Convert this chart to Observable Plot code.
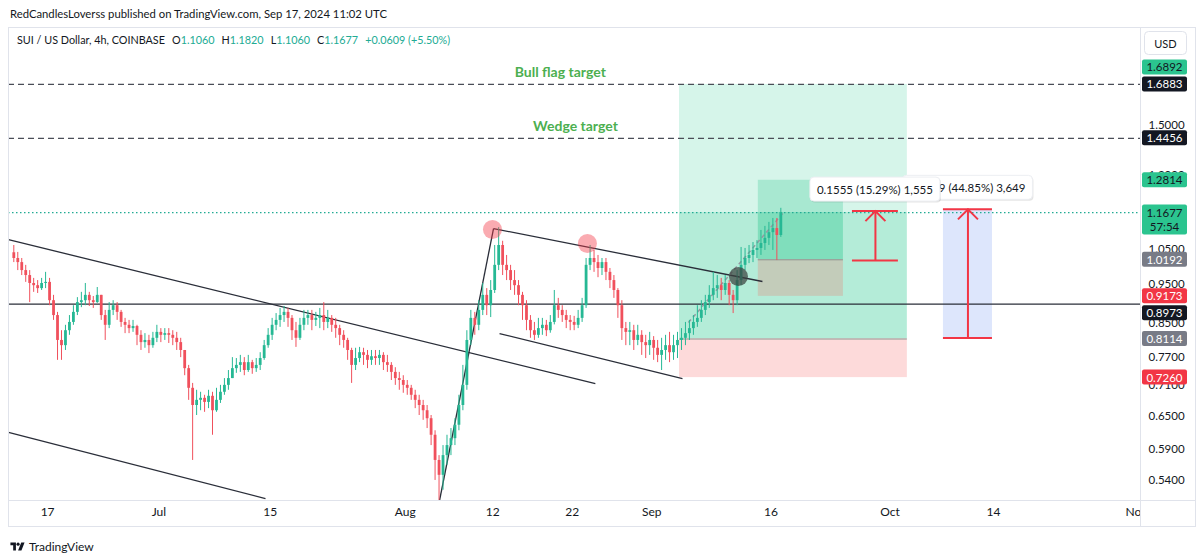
<!DOCTYPE html>
<html><head><meta charset="utf-8">
<script src="https://cdn.jsdelivr.net/npm/d3@7"></script>
<script src="https://cdn.jsdelivr.net/npm/@observablehq/plot@0.6"></script>
<style>
html,body{margin:0;padding:0;background:#fff;}
body{width:1200px;height:559px;overflow:hidden;font-family:Lato,"Noto Sans",sans-serif;color:#131722;}
#hdr{height:27px;line-height:28px;padding-left:10px;font-size:11.3px;white-space:nowrap;}
#wrap{position:relative;height:500px;}
#wrap svg{display:block;}
#legend{position:absolute;left:17px;top:5px;font-size:10.8px;line-height:16px;white-space:nowrap;}
#legend .g{color:#22ab94;}
#legend .k{margin-left:7px;}
#ftr{height:32px;position:relative;}
#ftr .logo{position:absolute;left:10px;top:12px;display:flex;align-items:center;font-size:12px;}
#ftr svg{margin-right:4px;}
</style></head><body>
<div id="hdr">RedCandlesLoverss published on TradingView.com, Sep 17, 2024 11:02 UTC</div>
<div id="wrap"><div id="legend"></div></div>
<div id="ftr"><div class="logo"><svg width="15" height="11" viewBox="0 0 36 28"><path d="M14 24H7V11H0V4h14v20zM28 24h-8.5l8-20h8.5L28 24z" fill="#131722"/><circle cx="19.5" cy="8" r="4" fill="#131722"/></svg><span>TradingView</span></div></div>
<script>
// ---------------- DATA ----------------
const symbolTitle = "SUI / US Dollar, 4h, COINBASE";
const legendKeys = ["O", "H", "L", "C"];
const legendValues = ["1.1060", "1.1820", "1.1060", "1.1677"];
const legendChange = "+0.0609 (+5.50%)";

// 12h candles, first one starting 2024-06-12 12:00 UTC
const firstCandleCenter = "2024-06-12T18:00:00Z";
const candleHours = 12;
const firstOpen = 1.040;
const closes = [
 1.023,1.011,0.988,0.974,0.952,0.946,0.938,0.952,0.955,0.906,
 0.868,0.808,0.796,0.831,0.851,0.876,0.901,0.906,0.920,0.906,
 0.901,0.920,0.868,0.844,0.881,0.893,0.876,0.851,0.844,0.836,
 0.841,0.820,0.803,0.808,0.796,0.813,0.827,0.820,0.824,0.820,
 0.813,0.803,0.785,0.745,0.704,0.670,0.680,0.684,0.676,0.688,
 0.660,0.680,0.696,0.710,0.724,0.745,0.752,0.758,0.741,0.758,
 0.745,0.752,0.767,0.796,0.820,0.844,0.856,0.868,0.876,0.861,
 0.831,0.813,0.844,0.861,0.868,0.856,0.861,0.868,0.851,0.861,
 0.844,0.836,0.820,0.808,0.785,0.752,0.767,0.780,0.774,0.763,
 0.771,0.767,0.774,0.758,0.752,0.737,0.724,0.720,0.710,0.704,
 0.690,0.680,0.670,0.660,0.645,0.615,0.572,0.548,0.580,0.597,
 0.609,0.633,0.670,0.710,0.808,0.861,0.844,0.881,0.920,0.893,
 0.933,1.003,1.062,1.003,0.988,0.960,0.946,0.920,0.893,0.856,
 0.831,0.820,0.836,0.844,0.831,0.851,0.893,0.881,0.868,0.856,
 0.851,0.844,0.861,0.893,1.003,1.023,1.011,0.994,1.011,0.983,
 0.960,0.933,0.893,0.836,0.827,0.831,0.808,0.820,0.803,0.796,
 0.808,0.790,0.774,0.785,0.796,0.780,0.796,0.808,0.813,0.824,
 0.836,0.851,0.861,0.881,0.901,0.920,0.938,0.946,0.933,0.952,
 0.920,0.906,0.960,1.003,1.023,1.032,1.047,1.053,1.068,1.084,
 1.102,1.115,1.093,1.168];
const highs = [
 1.062,1.041,1.023,1.003,0.988,0.966,0.960,0.966,0.983,0.966,
 0.920,0.876,0.831,0.844,0.868,0.893,0.914,0.928,0.952,0.928,
 0.917,0.941,0.920,0.881,0.901,0.906,0.901,0.881,0.861,0.856,
 0.856,0.844,0.831,0.824,0.820,0.827,0.844,0.836,0.836,0.836,
 0.831,0.827,0.813,0.785,0.752,0.714,0.700,0.696,0.690,0.700,
 0.696,0.704,0.710,0.724,0.741,0.769,0.767,0.774,0.769,0.774,
 0.763,0.767,0.780,0.808,0.836,0.861,0.873,0.886,0.891,0.886,
 0.868,0.851,0.861,0.881,0.881,0.881,0.876,0.886,0.901,0.881,
 0.868,0.861,0.844,0.831,0.813,0.790,0.790,0.792,0.790,0.785,
 0.785,0.785,0.785,0.780,0.774,0.758,0.747,0.737,0.730,0.720,
 0.710,0.700,0.690,0.680,0.670,0.651,0.623,0.580,0.597,0.615,
 0.627,0.645,0.690,0.752,0.831,0.881,0.876,0.906,0.952,0.938,
 0.960,1.062,1.118,1.075,1.032,1.003,0.988,0.960,0.928,0.906,
 0.868,0.851,0.861,0.861,0.856,0.868,0.933,0.912,0.893,0.881,
 0.868,0.866,0.881,0.912,1.023,1.062,1.047,1.032,1.023,1.023,
 0.994,0.974,0.938,0.906,0.851,0.851,0.844,0.844,0.831,0.820,
 0.827,0.817,0.808,0.813,0.820,0.827,0.820,0.827,0.836,0.851,
 0.856,0.868,0.893,0.906,0.920,0.946,0.983,0.974,0.966,0.974,
 0.960,0.933,0.988,1.056,1.053,1.062,1.071,1.077,1.109,1.122,
 1.135,1.148,1.148,1.182];
const lows = [
 1.011,0.988,0.974,0.955,0.901,0.928,0.925,0.933,0.938,0.893,
 0.856,0.763,0.763,0.785,0.820,0.844,0.868,0.888,0.893,0.891,
 0.886,0.899,0.856,0.808,0.836,0.868,0.856,0.839,0.824,0.824,
 0.827,0.796,0.785,0.790,0.778,0.790,0.803,0.803,0.808,0.801,
 0.796,0.785,0.769,0.730,0.680,0.572,0.651,0.660,0.657,0.664,
 0.615,0.657,0.674,0.690,0.700,0.724,0.735,0.737,0.730,0.737,
 0.733,0.737,0.741,0.763,0.790,0.808,0.831,0.839,0.851,0.839,
 0.808,0.792,0.808,0.831,0.844,0.831,0.841,0.836,0.831,0.836,
 0.827,0.813,0.796,0.790,0.763,0.714,0.741,0.758,0.752,0.745,
 0.752,0.752,0.752,0.741,0.737,0.720,0.710,0.700,0.694,0.690,
 0.680,0.664,0.651,0.642,0.627,0.597,0.540,0.470,0.525,0.564,
 0.580,0.597,0.623,0.660,0.700,0.796,0.820,0.831,0.868,0.868,
 0.863,0.925,0.988,0.974,0.960,0.933,0.920,0.893,0.856,0.831,
 0.813,0.808,0.813,0.820,0.817,0.825,0.845,0.861,0.851,0.836,
 0.831,0.831,0.836,0.851,0.886,0.988,0.983,0.968,0.974,0.960,
 0.938,0.912,0.861,0.808,0.796,0.796,0.785,0.796,0.774,0.767,
 0.774,0.763,0.758,0.741,0.763,0.758,0.763,0.767,0.785,0.796,
 0.808,0.820,0.839,0.851,0.868,0.886,0.906,0.912,0.906,0.920,
 0.893,0.873,0.893,0.946,0.988,1.008,1.011,1.023,1.032,1.047,
 1.062,1.047,1.017,1.087];

const lastPrice = 1.1677;
const countdown = "57:54";

// horizontal target levels
const targetPrices = [1.6883, 1.4456];
const targetNames = ["Bull flag target", "Wedge target"];
const targetLabelDates = ["2024-08-20T12:00:00Z", "2024-08-22T10:00:00Z"];
const supportPrices = [0.8973];

// trend lines
const trendStartDates = ["2024-06-12T02:00:00Z", "2024-06-12T02:00:00Z", "2024-08-05T07:30:00Z", "2024-08-12T02:30:00Z", "2024-08-12T20:40:00Z"];
const trendStartPrices = [1.080, 0.620, 0.5097, 1.115, 0.8243];
const trendEndDates = ["2024-08-24T22:00:00Z", "2024-07-14T10:00:00Z", "2024-08-12T02:30:00Z", "2024-09-14T22:30:00Z", "2024-09-04T21:00:00Z"];
const trendEndPrices = [0.7137, 0.5126, 1.115, 0.9574, 0.7241];

// dashed projection path
const pathDates = ["2024-09-05T15:00:00Z", "2024-09-17T14:00:00Z"];
const pathPrices = [0.8508, 1.1677];

// circle markers
const markerDates = ["2024-08-11T23:20:00Z", "2024-08-23T22:00:00Z", "2024-09-11T22:00:00Z"];
const markerPrices = [1.112, 1.068, 0.9712];
const markerKinds = ["top", "top", "breakout"];

// long position tools
const posNames = ["main", "small"];
const posStarts = ["2024-09-04T12:00:00Z", "2024-09-14T10:00:00Z"];
const posEnds = ["2024-10-03T04:00:00Z", "2024-09-25T03:00:00Z"];
const posTargets = [1.6883, 1.2814];
const posEntries = [0.8114, 1.0192];
const posStops = [0.7260, 0.9173];

// price range measures
const measureStarts = ["2024-09-26T06:15:00Z", "2024-10-07T17:00:00Z"];
const measureEnds = ["2024-10-02T01:00:00Z", "2024-10-13T21:00:00Z"];
const measureFrom = [1.0170, 0.8136];
const measureTo = [1.1725, 1.1785];
const measureTexts = ["0.1555 (15.29%) 1,555", "0.3649 (44.85%) 3,649"];
const measureBoxed = [false, true];

// axes
const xTickDates = ["2024-06-17", "2024-07-01", "2024-07-15", "2024-08-01", "2024-08-12", "2024-08-22", "2024-09-01", "2024-09-16", "2024-10-01", "2024-10-14", "2024-11-01"];
const xTickLabels = ["17", "Jul", "15", "Aug", "12", "22", "Sep", "16", "Oct", "14", "Nov"];
const yTickValues = [0.54, 0.59, 0.65, 0.71, 0.77, 0.85, 0.95, 1.05, 1.30, 1.50];
const xDomain = ["2024-06-12T02:00:00Z", "2024-11-01T12:00:00Z"];
const yDomain = [0.5097, 1.972];

// right price-scale labels (priority order)
const axisLabelValues = [1.6883, 1.6892, 1.4456, 1.2814, 1.1677, 1.0192, 0.9173, 0.8973, 0.8114, 0.7260];
const axisLabelKinds = ["line", "target", "line", "target", "last", "entry", "stop", "line", "entry", "stop"];

// ---------------- STYLES ----------------
const UP = "#26b894", DOWN = "#f0505c", RED = "#f23645";
const zoneFill = {
  mainAbove: "#d6f5ea", mainBelow: "#b4ecd8", mainStop: "#fddada",
  smallAbove: "#a8e8d1", smallBelow: "#80debc", smallStop: "#c3ccba"
};
const labelStyle = {
  line: {fill: "#131722", text: "#ffffff"},
  target: {fill: "#2bc48f", text: "#131722"},
  last: {fill: "#2bc48f", text: "#131722"},
  entry: {fill: "#787b86", text: "#ffffff"},
  stop: {fill: "#f23645", text: "#ffffff"}
};
const markerStyle = {top: {fill: "#f23645", op: 0.42}, breakout: {fill: "#3c4240", op: 0.72}};
const FONT = "Lato, 'Noto Sans', sans-serif";

// ---------------- TABLES ----------------
const t0 = new Date(firstCandleCenter).getTime();
const candles = closes.map((c, i) => ({
  date: new Date(t0 + i * candleHours * 3600e3),
  open: i === 0 ? firstOpen : closes[i - 1],
  high: highs[i], low: lows[i], close: c
}));
const upC = candles.filter(d => d.close >= d.open);
const dnC = candles.filter(d => d.close < d.open);

const targets = targetPrices.map((p, i) => ({price: p, name: targetNames[i], date: new Date(targetLabelDates[i])}));
const trends = trendStartDates.map((d, i) => ({x1: new Date(d), y1: trendStartPrices[i], x2: new Date(trendEndDates[i]), y2: trendEndPrices[i]}));
const pathLine = [{x1: new Date(pathDates[0]), y1: pathPrices[0], x2: new Date(pathDates[1]), y2: pathPrices[1]}];
const markers = markerDates.map((d, i) => ({date: new Date(d), price: markerPrices[i], kind: markerKinds[i]}));
const positions = posNames.map((n, i) => ({name: n, start: new Date(posStarts[i]), end: new Date(posEnds[i]), target: posTargets[i], entry: posEntries[i], stop: posStops[i]}));
const zones = positions.flatMap(p => [
  {x1: p.start, x2: p.end, y1: p.target, y2: lastPrice, zone: p.name + "Above"},
  {x1: p.start, x2: p.end, y1: lastPrice, y2: p.entry, zone: p.name + "Below"},
  {x1: p.start, x2: p.end, y1: p.entry, y2: p.stop, zone: p.name + "Stop"}
]);
const measures = measureStarts.map((s, i) => {
  const a = new Date(s), b = new Date(measureEnds[i]);
  return {x1: a, x2: b, mid: new Date((a.getTime() + b.getTime()) / 2), from: measureFrom[i], to: measureTo[i], text: measureTexts[i], boxed: measureBoxed[i]};
});
const measureRules = measures.flatMap(m => [{x1: m.x1, x2: m.x2, y: m.from}, {x1: m.x1, x2: m.x2, y: m.to}]);
const labelByTime = new Map(xTickDates.map((d, i) => [new Date(d).getTime(), xTickLabels[i]]));

// legend (html)
document.getElementById("legend").innerHTML =
  `<span>${symbolTitle}</span>` +
  legendKeys.map((k, i) => `<span class="k">${k}</span><span class="g">${legendValues[i]}</span>`).join("") +
  `<span class="g" style="margin-left:7px">${legendChange}</span>`;

// chevron symbol for arrow heads
const chevron = {draw(ctx, size) { const r = Math.sqrt(size / Math.PI); ctx.moveTo(-r, r); ctx.lineTo(0, 0); ctx.lineTo(r, r); }};

const measureCtx = document.createElement("canvas").getContext("2d");
function textWidth(t, px) { measureCtx.font = `${px}px Lato`; return measureCtx.measureText(t).width; }

// measure label boxes (positioned through the x/y scales)
function measureLabels(index, scales) {
  const g = d3.create("svg:g");
  measures.slice().reverse().forEach(m => {
    const cx = scales.x(m.mid), cy = scales.y(m.to) - 21.5;
    const w = textWidth(m.text, 11.5) + 14, h = 24;
    g.append("rect").attr("x", cx - w / 2 + 1).attr("y", cy - h / 2 + 1.5).attr("width", w).attr("height", h).attr("rx", 4).attr("fill", "rgba(0,0,0,0.10)");
    g.append("rect").attr("x", cx - w / 2).attr("y", cy - h / 2).attr("width", w).attr("height", h).attr("rx", 4).attr("fill", "#fff").attr("stroke", "#eceef2");
    g.append("text").attr("x", cx).attr("y", cy).attr("text-anchor", "middle").attr("dominant-baseline", "central")
      .attr("font-size", 11.5).attr("font-family", FONT).attr("fill", "#131722").text(m.text);
  });
  return g.node();
}

// right price-scale labels with simple collision avoidance
function priceLabels(index, scales, values, dim) {
  const g = d3.create("svg:g");
  const x0 = dim.width - dim.marginRight + 2, w = 45, h = 15;
  const placed = [];
  axisLabelValues.forEach((v, i) => {
    let y = scales.y(v);
    for (const p of placed) if (Math.abs(y - p.y) < h) y = v > p.v ? p.y - 17 : p.y + 17;
    placed.push({v, y});
    const s = labelStyle[axisLabelKinds[i]];
    const two = axisLabelKinds[i] === "last";
    g.append("rect").attr("x", x0).attr("y", y - h / 2).attr("width", w).attr("height", two ? 2 * h : h).attr("rx", 2).attr("fill", s.fill);
    g.append("text").attr("x", x0 + w / 2).attr("y", y).attr("text-anchor", "middle").attr("dominant-baseline", "central")
      .attr("font-size", 11.5).attr("font-family", FONT).attr("fill", s.text).text(v.toFixed(4));
    if (two) g.append("text").attr("x", x0 + w / 2).attr("y", y + 14).attr("text-anchor", "middle").attr("dominant-baseline", "central")
      .attr("font-size", 11.5).attr("font-family", FONT).attr("fill", s.text).text(countdown);
  });
  return g.node();
}

// pane chrome: borders, currency button, axis corner
function chrome(index, scales, values, dim) {
  const g = d3.create("svg:g");
  const r = dim.width - dim.marginRight, b = dim.height - dim.marginBottom;
  g.append("rect").attr("x", r + 1).attr("y", b + 1).attr("width", dim.width - r - 6).attr("height", dim.marginBottom - 2).attr("fill", "#fff");
  g.append("rect").attr("x", 8.5).attr("y", 0.5).attr("width", dim.width - 13).attr("height", dim.height - 1).attr("fill", "none").attr("stroke", "#e0e3eb");
  g.append("line").attr("x1", 8).attr("x2", dim.width - 4).attr("y1", b + 0.5).attr("y2", b + 0.5).attr("stroke", "#e0e3eb");
  g.append("line").attr("x1", r + 0.5).attr("x2", r + 0.5).attr("y1", 0).attr("y2", dim.height).attr("stroke", "#e0e3eb");
  g.append("rect").attr("x", r + 4.5).attr("y", 4.5).attr("width", 42).attr("height", 23).attr("rx", 4).attr("fill", "#fff").attr("stroke", "#e0e3eb");
  g.append("text").attr("x", r + 25.5).attr("y", 16).attr("text-anchor", "middle").attr("dominant-baseline", "central")
    .attr("font-size", 11).attr("font-family", FONT).attr("fill", "#131722").text("USD");
  return g.node();
}

const plot = Plot.plot({
  width: 1200, height: 500,
  marginTop: 3, marginBottom: 27, marginLeft: 8, marginRight: 60,
  style: {fontFamily: FONT, fontSize: "12px", color: "#131722", background: "#ffffff", overflow: "visible"},
  x: {type: "utc", domain: xDomain.map(d => new Date(d))},
  y: {type: "log", domain: yDomain, clamp: true},
  color: {type: "identity"},
  marks: [
    Plot.rect(zones, {x1: "x1", x2: "x2", y1: "y1", y2: "y2", fill: d => zoneFill[d.zone]}),
    Plot.ruleY(positions, {y: "entry", x1: "start", x2: "end", stroke: "#8d928f", strokeWidth: 1}),
    Plot.rect(measures.filter(m => m.boxed), {x1: "x1", x2: "x2", y1: "from", y2: "to", fill: "#dde6fc"}),
    Plot.ruleY(targetPrices, {stroke: "#4a4d57", strokeWidth: 1.3, strokeDasharray: "6,4"}),
    Plot.ruleY(supportPrices, {stroke: "#2a2e39", strokeWidth: 1.3}),
    Plot.ruleY([lastPrice], {stroke: "#22ab94", strokeWidth: 1.2, strokeDasharray: "1.5,2.5"}),
    Plot.link(trends, {x1: "x1", y1: "y1", x2: "x2", y2: "y2", stroke: "#2a2e39", strokeWidth: 1.3}),
    Plot.link(pathLine, {x1: "x1", y1: "y1", x2: "x2", y2: "y2", stroke: "#9598a1", strokeWidth: 1.5, strokeDasharray: "4,3"}),
    Plot.ruleX(upC, {x: "date", y1: "low", y2: "high", stroke: UP, strokeWidth: 1}),
    Plot.ruleX(dnC, {x: "date", y1: "low", y2: "high", stroke: DOWN, strokeWidth: 1}),
    Plot.ruleX(upC, {x: "date", y1: "open", y2: "close", stroke: UP, strokeWidth: 2.8}),
    Plot.ruleX(dnC, {x: "date", y1: "open", y2: "close", stroke: DOWN, strokeWidth: 2.8}),
    Plot.dot(markers, {x: "date", y: "price", r: 9.5, fill: d => markerStyle[d.kind].fill, fillOpacity: d => markerStyle[d.kind].op, stroke: null}),
    Plot.ruleY(measureRules, {y: "y", x1: "x1", x2: "x2", stroke: RED, strokeWidth: 2}),
    Plot.ruleX(measures, {x: "mid", y1: "from", y2: "to", stroke: RED, strokeWidth: 2}),
    Plot.dot(measures, {x: "mid", y: "to", symbol: chevron, r: 10, stroke: RED, strokeWidth: 2, fill: "none"}),
    measureLabels,
    Plot.text(targets, {x: "date", y: "price", text: "name", dy: -12, fill: "#4caf50", fontWeight: "bold", fontSize: 14}),
    Plot.axisX({ticks: xTickDates.map(d => new Date(d)), tickFormat: d => labelByTime.get(+d), tickSize: 0, tickPadding: 7, fontSize: 12, label: null}),
    Plot.axisY({anchor: "right", ticks: yTickValues, tickFormat: d3.format(".4f"), tickSize: 0, tickPadding: 8, fontSize: 11.5, textAnchor: "start", label: null}),
    chrome,
    priceLabels
  ]
});
document.getElementById("wrap").prepend(plot);
</script>
</body></html>
